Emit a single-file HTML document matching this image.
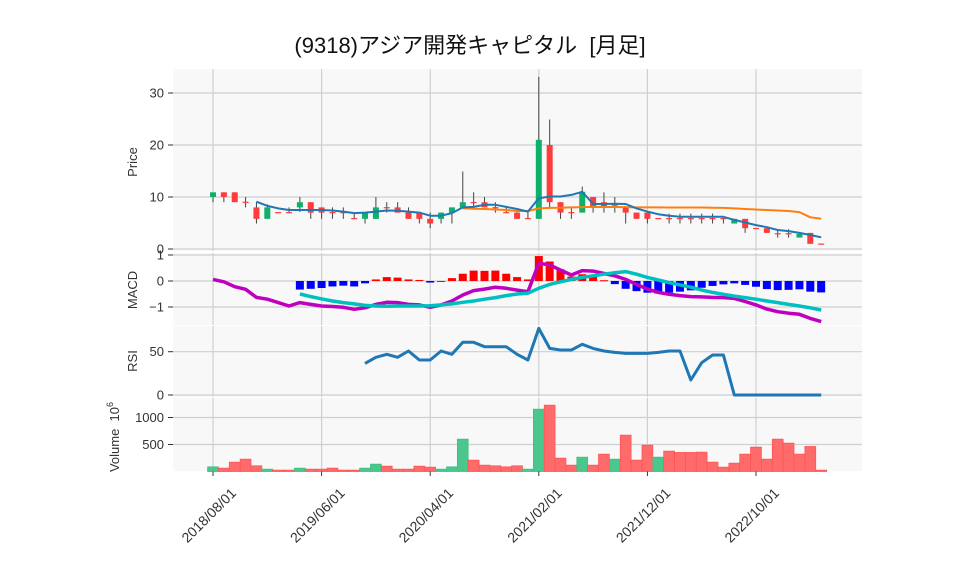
<!DOCTYPE html>
<html><head><meta charset="utf-8"><style>
body{margin:0;background:#fff;}
svg{display:block;font-family:"Liberation Sans","Noto Sans CJK JP",sans-serif;}
</style></head><body>
<svg id="c" width="958" height="575"></svg>
<script>
const dates=['2018/08/01','2019/06/01','2020/04/01','2021/02/01','2021/12/01','2022/10/01'];
const dateIdx=[0,10,20,30,40,50];
const opens=[10,10.9,10.9,9.1,8,5.8,7.1,7.1,8,9,8,7.1,7.1,5.95,5.8,5.8,8.05,8,7,7,5.8,5.8,7,8,9.05,9,8.05,7.1,7,5.95,5.8,20,9,7.1,7,10,9,8.55,8,7,7,5.95,5.95,5.95,5.95,5.95,5.95,5.95,4.9,5.8,4.05,4,3.05,3.05,2.2,3.1,1.05];
const closes=[10.9,10,9,9,5.8,8,7,7,9,7,7,7,7,5.9,7,8,8,7,5.8,5.8,4.9,7,8,9,9,8,8,7,5.8,5.9,21,9,7,7,11,8,8,8.5,7,5.8,5.8,5.9,5.9,5.9,5.9,5.9,5.9,5.9,5.8,4,4,3.1,3,3,2.9,1,1];
const highs=[10.9,10.9,10.9,10,9,8.6,7.1,8,10,9,8,8,8,6.8,7,10,9,9,8,7,7,7,8,14.9,10.9,10,9,8,7.1,7.1,33.1,24.9,9,8,12,10,10.9,10,8,7,7,5.95,6.8,6.8,6.8,6.8,6.8,5.95,5.8,5.8,4.05,4,3.8,3.8,3.1,3.1,1.05];
const lows=[9,9,9,8,4.9,5.8,7,7,7.1,5.8,5.8,5.8,5.8,5.8,4.9,5.8,7,7,5.8,4.9,4,4.9,4.9,8,8,8,7,7,5.8,5.8,5.8,8,5.8,5.8,7,7,7,7,4.9,5.8,4.9,5.9,4.9,4.9,4.9,4.9,4.9,4.9,4.9,3.1,4,3.1,2.2,2.2,2.2,1,1];
const ma1=[null,null,null,null,9.1,8.3,7.8,7.5,7.5,7.5,7.5,7.4,7.2,6.9,7.0,7.2,7.4,7.35,7.2,7.0,6.4,6.4,6.9,8.0,8.1,8.5,8.5,8.1,7.7,7.2,9.75,10.1,10.1,10.4,11.0,8.65,8.65,8.7,8.65,7.8,7.2,6.7,6.4,6.2,6.2,6.2,6.2,6.2,5.6,5.1,4.6,4.2,3.65,3.45,3.1,2.7,2.25];
const ma2=[null,null,null,null,null,null,null,null,null,null,null,null,null,null,null,null,null,null,null,null,null,null,null,7.8,7.75,7.7,7.6,7.5,7.3,7.3,7.8,7.9,7.95,8.0,8.05,8.1,8.08,8.08,8.05,8.0,8.0,8.0,7.98,7.98,7.98,7.98,7.95,7.9,7.8,7.7,7.6,7.5,7.4,7.3,7.1,6.1,5.8];
const macd=[0.06,-0.03,-0.22,-0.32,-0.63,-0.7,-0.83,-0.96,-0.83,-0.9,-0.96,-0.98,-1.01,-1.09,-1.03,-0.9,-0.82,-0.83,-0.9,-0.92,-1.01,-0.92,-0.77,-0.54,-0.37,-0.31,-0.24,-0.28,-0.35,-0.41,0.68,0.62,0.42,0.23,0.4,0.38,0.29,0.2,0.06,-0.13,-0.31,-0.44,-0.51,-0.56,-0.6,-0.61,-0.63,-0.64,-0.67,-0.79,-0.92,-1.08,-1.18,-1.24,-1.28,-1.44,-1.56];
const signal=[null,null,null,null,null,null,null,null,-0.5,-0.6,-0.69,-0.77,-0.83,-0.88,-0.94,-0.96,-0.97,-0.96,-0.96,-0.96,-0.95,-0.92,-0.88,-0.82,-0.77,-0.7,-0.64,-0.56,-0.5,-0.47,-0.28,-0.13,-0.03,0.06,0.14,0.2,0.26,0.32,0.36,0.26,0.14,0.04,-0.06,-0.15,-0.24,-0.35,-0.44,-0.51,-0.58,-0.64,-0.7,-0.77,-0.83,-0.9,-0.96,-1.03,-1.12];
const rsi=[null,null,null,null,null,null,null,null,null,null,null,null,null,null,36.5,43.5,47,43.5,50.8,40.4,40.4,50.8,47,60.8,60.8,55.8,55.8,55.8,47,40.4,76.9,53.8,52,52,58.5,53.8,50.8,49.2,48,48,48,49.2,50.8,50.8,17.3,37.3,46.2,46.2,0,0,0,0,0,0,0,0,0];
const volume=[86,62,173,228,105,43,25,25,62,43,43,62,25,25,62,136,99,43,43,99,80,43,86,599,210,117,105,86,105,43,1154,1228,247,117,265,117,321,228,673,210,488,265,377,352,352,358,173,80,154,321,451,228,599,525,321,463,25];
const priceTicks=[0,10,20,30];
const macdTicks=[-1,0,1];
const rsiTicks=[0,50];
const volTicks=[500,1000];

const NS='http://www.w3.org/2000/svg';
const svg=document.getElementById('c');
function el(tag,attrs,parent,text){const e=document.createElementNS(NS,tag);for(const k in attrs)e.setAttribute(k,attrs[k]);if(text!==undefined)e.textContent=text;(parent||svg).appendChild(e);return e;}
const L=173,R=862;
const xs=i=>213+10.86*i;
const py=v=>249-5.2*v;
const my=v=>281-26*v;
const ry=v=>395-0.866*v;
const vy=v=>471.5-v*0.054;
const panels=[[69,251,'price-panel'],[253,325,'macd-panel'],[326,397,'rsi-panel'],[398,471,'volume-panel']];
panels.forEach(p=>{const r=el('rect',{x:L,y:p[0],width:R-L,height:p[1]-p[0],fill:'#f8f8f8'});


dateIdx.forEach(i=>el('line',{x1:xs(i),x2:xs(i),y1:p[0],y2:p[1],stroke:'#cfcfcf','stroke-width':1.2}));});
function yaxis(ticks,f,name){ticks.forEach(t=>{const y=f(t);el('line',{x1:L,x2:R,y1:y,y2:y,stroke:'#cfcfcf','stroke-width':1.2});el('line',{x1:168,x2:173,y1:y,y2:y,stroke:'#333'});
const tx=el('text',{x:164,y:y+4.5,'text-anchor':'end','font-size':13,fill:'#333'},svg,(t<0?'\u2212'+(-t):t));

});}
yaxis(priceTicks,py,'price');yaxis(macdTicks,my,'macd');yaxis(rsiTicks,ry,'rsi');yaxis(volTicks,vy,'volume');
volume.forEach((v,i)=>{const up=i===0?closes[i]>=opens[i]:closes[i]>closes[i-1];
const b=el('rect',{x:xs(i)-5.4,y:vy(v),width:10.8,height:471.5-vy(v),fill:up?'#4bc78e':'#ff6b6b',stroke:up?'#3fbf84':'#f55',"stroke-width":0.8});

});
opens.forEach((o,i)=>{const c=closes[i];const up=c>=o;const col=up?'#0fb06a':'#ff3b3b';
el('line',{x1:xs(i),x2:xs(i),y1:py(highs[i]),y2:py(lows[i]),stroke:'#444','stroke-width':1});
const top=py(Math.max(o,c)),h=Math.max(1.2,Math.abs(py(o)-py(c)));
const b=el('rect',{x:xs(i)-3,y:top,width:6,height:h,fill:col});

});
function line(arr,f,color,w,name){let d='';arr.forEach((v,i)=>{if(v===null)return;d+=(d?'L':'M')+xs(i).toFixed(1)+','+f(v).toFixed(1);});
const p=el('path',{d:d,fill:'none',stroke:color,'stroke-width':w,'stroke-linejoin':'round'});

}
line(ma2,py,'#ff7f0e',2,'ma-long-line');
line(ma1,py,'#1f77b4',2,'ma-short-line');
macd.forEach((m,i)=>{if(signal[i]===null)return;const h=m-signal[i];
const b=el('rect',{x:xs(i)-4,y:Math.min(my(0),my(h)),width:8,height:Math.max(1,Math.abs(my(h)-my(0))),fill:h>=0?'#ff0000':'#0000ff'});

});
line(macd,my,'#bf00bf',3.5,'macd-line');
line(signal,my,'#00bfbf',3.5,'signal-line');
line(rsi,ry,'#1f77b4',3,'rsi-line');
dates.forEach((d,k)=>{const x=xs(dateIdx[k]);el('line',{x1:x,x2:x,y1:471.5,y2:476,stroke:'#333'});
const ax=x+24,ay=494;
const t=el('text',{x:ax,y:ay,'text-anchor':'end','font-size':14,fill:'#333',transform:'rotate(-45 '+ax+' '+ay+')'},svg,d);

});
function ylab(txt,x,y,name){const t=el('text',{x:x,y:y,'text-anchor':'middle','font-size':13,fill:'#333',transform:'rotate(-90 '+x+' '+y+')'},svg,txt);

return t;}
ylab('Price',137,162,'price-axis-title');
ylab('MACD',137,290,'macd-axis-title');
ylab('RSI',137,361,'rsi-axis-title');
const vt=ylab('Volume\u00a0\u00a010',119,437,'volume-axis-title');
el('tspan',{dy:-6,'font-size':9},vt,'6');
const title=el('text',{x:470,y:53,'text-anchor':'middle','font-size':22,fill:'#111'},svg,'(9318)アジア開発キャピタル\u00a0\u00a0[月足]');


</script>
</body></html>
